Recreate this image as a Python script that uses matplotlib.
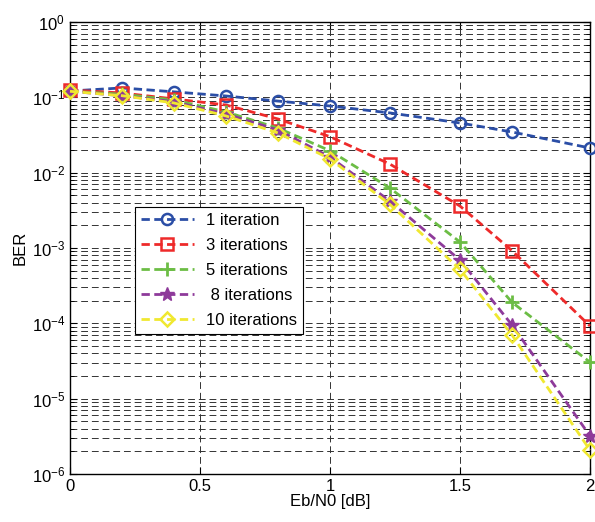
import matplotlib
matplotlib.use("Agg")
import matplotlib.pyplot as plt
from matplotlib.ticker import LogLocator, NullFormatter

plt.rcParams['font.family'] = ['Liberation Sans', 'DejaVu Sans']
plt.rcParams['mathtext.fontset'] = 'custom'
plt.rcParams['mathtext.rm'] = 'Liberation Sans'

# Eb/N0 points
ebn0 = [0, 0.2, 0.4, 0.6, 0.8, 1.0, 1.23, 1.5, 1.7, 2.0]

ber_1 = [0.121, 0.133, 0.118, 0.104, 0.089, 0.0766, 0.062, 0.0456, 0.0346, 0.0212]
ber_3 = [0.125, 0.114, 0.095, 0.079, 0.0515, 0.030, 0.013, 0.0036, 0.00092, 9.2e-5]
ber_5 = [0.12, 0.11, 0.092, 0.064, 0.039, 0.0195, 0.00625, 0.0012, 1.9e-4, 3.05e-5]
ber_8 = [0.12, 0.105, 0.087, 0.060, 0.0368, 0.0161, 0.0042, 0.00069, 9.5e-5, 3.2e-6]
ber_10 = [0.12, 0.105, 0.084, 0.0565, 0.0336, 0.0152, 0.0038, 0.00052, 7e-5, 2.07e-6]

labels = ['1 iteration', '3 iterations', '5 iterations', ' 8 iterations', '10 iterations']

fig = plt.figure(figsize=(5.95, 5.22), dpi=100)
ax = fig.add_axes([0.1176, 0.092, 0.8740, 0.866])

dash = (0, (3, 1.6))
ax.semilogy(ebn0, ber_1, marker='o', ls=dash, color='#2b4ea6', mfc='none', mec='#2b4ea6',
            ms=8, mew=1.8, lw=2, label=labels[0], clip_on=False, zorder=3)
ax.semilogy(ebn0, ber_3, marker='s', ls=dash, color='#ee2a2a', mfc='none', mec='#ee2a2a',
            ms=8.5, mew=1.8, lw=2, label=labels[1], clip_on=False, zorder=3)
ax.semilogy(ebn0, ber_5, marker='+', ls=dash, color='#6cbd45', mec='#6cbd45',
            ms=10, mew=2.0, lw=2, label=labels[2], clip_on=False, zorder=3)
ax.semilogy(ebn0, ber_8, marker='*', ls=dash, color='#8e3a9a', mfc='#8e3a9a', mec='#8e3a9a',
            ms=10.5, mew=1.0, lw=2, label=labels[3], clip_on=False, zorder=3)
ax.semilogy(ebn0, ber_10, marker='D', ls=dash, color='#f0e830', mfc='none', mec='#f0e830',
            ms=7, mew=1.8, lw=2, label=labels[4], clip_on=False, zorder=3)

ax.set_xlim(0, 2)
ax.set_ylim(1e-6, 1)
ax.set_xticks([0, 0.5, 1, 1.5, 2])
ax.set_xticklabels(['0', '0.5', '1', '1.5', '2'])
ax.yaxis.set_major_locator(LogLocator(base=10, numticks=10))
ax.yaxis.set_minor_locator(LogLocator(base=10, subs=range(2, 10), numticks=100))
ax.yaxis.set_minor_formatter(NullFormatter())
ax.xaxis.get_offset_text().set_visible(False)
ax.yaxis.get_offset_text().set_visible(False)

ax.tick_params(which='both', direction='in', top=True, right=True, labelsize=12)
ax.tick_params(which='major', length=5)
ax.tick_params(which='minor', length=3)

ax.grid(True, which='major', axis='both', color='#333333', linestyle=(0, (7, 4)), linewidth=0.7)
ax.grid(True, which='minor', axis='y', color='#333333', linestyle=(0, (7, 4)), linewidth=0.7)

for s in ax.spines.values():
    s.set_linewidth(1.0)

ax.set_xlabel('Eb/N0 [dB]', fontsize=12, labelpad=0)
ax.set_ylabel('BER', fontsize=12, labelpad=3)

leg = ax.legend(loc='upper left', bbox_to_anchor=(0.125, 0.59), borderaxespad=0,
                fontsize=12, fancybox=False, framealpha=1, edgecolor='black',
                handlelength=3.2, borderpad=0.35, labelspacing=0.6, handletextpad=0.7)
leg.get_frame().set_linewidth(0.8)

fig.savefig('out.png', dpi=100)
